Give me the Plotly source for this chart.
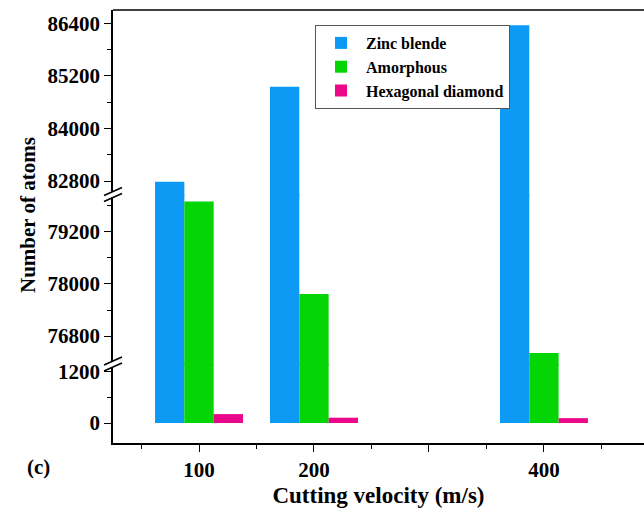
import plotly.graph_objects as go

# ---- data ----
velocities = [100, 200, 400]
zinc_blende = [82780, 84950, 86350]
amorphous = [79900, 77770, 76410]
hex_diamond = [210, 125, 115]

series_names = ["Zinc blende", "Amorphous", "Hexagonal diamond"]
series_values = [zinc_blende, amorphous, hex_diamond]
series_colors = ["#0C9AF4", "#05D405", "#EA0789"]

x_tickvals = [100, 200, 300, 400]
x_ticktext = ["100", "200", "", "400"]
x_minor = [50, 150, 250, 350, 450]

top_ticks = [82800, 84000, 85200, 86400]
top_minor = [83400, 84600, 85800]
mid_ticks = [76800, 78000, 79200]
mid_minor = [77400, 78600, 79800]
bot_ticks = [0, 1200]
bot_minor = [600]

W, H = 644, 516
ML, MR, MT, MB = 113, 0, 10, 73
PH = H - MT - MB  # plot height px
PW = W - ML - MR


def py(px):
    """convert pixel y (from top) to paper fraction"""
    return (H - MB - px) / PH


def pxx(px):
    return (px - ML) / PW


FONT = "Liberation Serif"
BREAK1, BREAK2 = 194.5, 364
OV = 1.5  # px overlap of adjacent segments (hides seams in bars)

fig = go.Figure()
for yax in ["y", "y2", "y3"]:
    for name, vals, col in zip(series_names, series_values, series_colors):
        fig.add_trace(go.Bar(
            x=velocities, y=vals, name=name, marker_color=col,
            marker_line_width=0, xaxis="x", yaxis=yax,
            showlegend=(yax == "y"),
        ))

axis_common = dict(
    showline=True, linecolor="black", linewidth=1.6,
    ticks="outside", ticklen=7, tickwidth=1.4, tickcolor="black",
    showgrid=False, zeroline=False,
    tickfont=dict(family=FONT, size=21, color="black", weight="bold"),
)
minor_common = dict(ticks="outside", ticklen=4, tickwidth=1.4, tickcolor="black")

# scale (units per px) per segment, used to extend ranges for the overlap
s_top, s_mid, s_bot = 1 / 0.04389, 1 / 0.0436, 1 / 0.0425

fig.update_layout(
    width=W, height=H,
    margin=dict(l=ML, r=MR, t=MT, b=MB),
    paper_bgcolor="white", plot_bgcolor="rgba(0,0,0,0)",
    barmode="group", bargap=0.235, bargroupgap=0,
    font=dict(family=FONT, color="black"),
    xaxis=dict(
        range=[25.2, 487], anchor="y3",
        tickmode="array", tickvals=x_tickvals, ticktext=x_ticktext,
        minor=dict(tickvals=x_minor, **minor_common),
        title=dict(text="Cutting velocity (m/s)", standoff=6,
                   font=dict(family=FONT, size=23, color="black", weight="bold")),
        **axis_common,
    ),
    yaxis=dict(
        domain=[py(BREAK1 + OV), 1], range=[82492 - OV * s_top, 86700],
        tickmode="array", tickvals=top_ticks, tickformat="d",
        minor=dict(tickvals=top_minor, **minor_common),
        **axis_common,
    ),
    yaxis2=dict(
        domain=[py(BREAK2 + OV), py(BREAK1)], range=[76158 - OV * s_mid, 80060],
        tickmode="array", tickvals=mid_ticks, tickformat="d",
        minor=dict(tickvals=mid_minor, **minor_common),
        **axis_common,
    ),
    yaxis3=dict(
        domain=[0, py(BREAK2)], range=[-470, 1388],
        tickmode="array", tickvals=bot_ticks, tickformat="d",
        minor=dict(tickvals=bot_minor, **minor_common),
        **axis_common,
    ),
    legend=dict(
        x=pxx(315), y=py(25), xanchor="left", yanchor="top",
        bordercolor="#555555", borderwidth=1, bgcolor="white",
        font=dict(family=FONT, size=16, color="black", weight="bold"),
        tracegroupgap=0, itemwidth=40,
    ),
    showlegend=True,
)

# y-axis title as annotation
fig.add_annotation(
    text="<b>Number of atoms</b>", xref="paper", yref="paper",
    x=pxx(28), y=py(215), textangle=-90,
    showarrow=False, xanchor="center", yanchor="middle",
    font=dict(family=FONT, size=21, color="black"),
)
# panel label
fig.add_annotation(
    text="<b>(c)</b>", xref="paper", yref="paper",
    x=pxx(38), y=py(467),
    showarrow=False, xanchor="center", yanchor="middle",
    font=dict(family=FONT, size=21, color="black"),
)

# top frame line
fig.add_shape(type="line", xref="paper", yref="paper", x0=0, x1=1, y0=1, y1=1,
              line=dict(color="black", width=1.6))

# axis break marks: white gap in axis line + two slashes
for gap_px in [BREAK1, BREAK2]:
    fig.add_shape(
        type="rect", xref="paper", yref="paper",
        xsizemode="pixel", xanchor=0, x0=-3, x1=2,
        ysizemode="pixel", yanchor=py(gap_px), y0=-3, y1=3,
        fillcolor="white", line=dict(width=0),
    )
    for off in [-3, 3]:
        fig.add_shape(
            type="line", xref="paper", yref="paper",
            xsizemode="pixel", xanchor=0, x0=-9, x1=9,
            ysizemode="pixel", yanchor=py(gap_px), y0=off - 4, y1=off + 4,
            line=dict(color="black", width=1.4),
        )

fig.write_html(
    "out.html",
    config={"displayModeBar": False},
    post_script="document.body.style.margin='0';document.body.style.overflow='hidden';",
)
